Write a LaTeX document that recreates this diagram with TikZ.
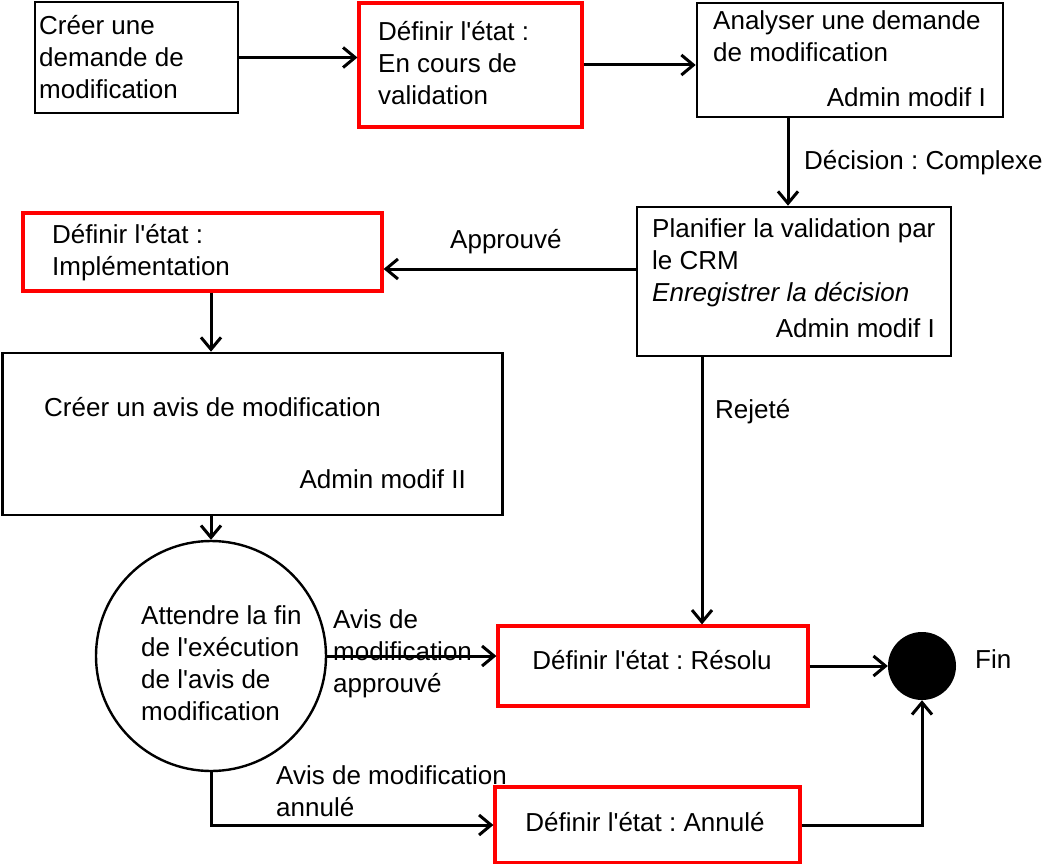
\documentclass[tikz,border=0pt]{standalone}
\usepackage{fontspec}
\setmainfont{Liberation Sans}[Ligatures=TeXOff]
\usetikzlibrary{arrows.meta}
\frenchspacing
\begin{document}
\begin{tikzpicture}[x=1pt,y=-1pt,
  box/.style={draw, line width=2.6pt, rectangle, inner sep=0},
  redbox/.style={draw=red, line width=3.2pt, rectangle, inner sep=0},
  txt/.style={inner sep=0, anchor=north west, align=left, font=\fontsize{26}{32}\selectfont},
  lbl/.style={inner sep=0, anchor=base west, font=\fontsize{26}{32}\selectfont},
  arr/.style={line width=3pt, -{Straight Barb[length=12pt,width=20pt]}}]
\useasboundingbox (0,0) rectangle (1046,864);
% boxes
\node[box, minimum width=203pt, minimum height=111pt] (b1) at (136.5,57.5) {};
\node[redbox, minimum width=223pt, minimum height=124pt] (b2) at (470.5,65) {};
\node[box, minimum width=306pt, minimum height=114pt] (b3) at (850,60) {};
\node[box, minimum width=314pt, minimum height=149pt] (b4) at (794,281.5) {};
\node[redbox, minimum width=359pt, minimum height=78pt] (b5) at (202.5,252) {};
\node[box, minimum width=500pt, minimum height=162pt] (b6) at (252.5,434) {};
\node[draw, circle, line width=2.4pt, minimum size=230pt, inner sep=0] (circ) at (211,656) {};
\node[redbox, minimum width=310pt, minimum height=80pt] (b7) at (653,666) {};
\node[redbox, minimum width=305pt, minimum height=76pt] (b8) at (647.5,825) {};
\node[circle, fill=black, minimum size=68pt, inner sep=0] (fin) at (922,666) {};
% texts
\node[txt] (t1) at (39,12) {\strut Créer une\\demande de\\modification};
\node[txt] (t2) at (378,18) {\strut Définir l'état :\\En cours de\\validation};
\node[txt] (t3) at (713,7) {\strut Analyser une demande\\de modification};
\node[lbl, anchor=base east] (t3a) at (986,106.5) {Admin modif I};
\node[txt] (t4) at (652,215) {\strut Planifier la validation par\\le CRM\\\textit{Enregistrer la décision}};
\node[lbl, anchor=base east] (t4a) at (935,337.5) {Admin modif I};
\node[txt] (t5) at (52,221) {\strut Définir l'état :\\Implémentation};
\node[lbl] (t6) at (44,416.5) {Créer un avis de modification};
\node[lbl, anchor=base east] (t6a) at (466,488.5) {Admin modif II};
\node[txt] (tc) at (141,602) {\strut Attendre la fin\\de l'exécution\\de l'avis de\\modification};
\node[lbl, anchor=base] (t7) at (652,669.5) {Définir l'état : Résolu};
\node[lbl, anchor=base] (t8) at (645,831.5) {Définir l'état : Annulé};
\node[lbl] (tfin) at (975,668.5) {Fin};
% edge labels
\node[lbl] (ldec) at (804,169.5) {Décision : Complexe};
\node[lbl] (lapp) at (450,248.5) {Approuvé};
\node[lbl] (lrej) at (715,418.5) {Rejeté};
\node[txt] (lavis) at (333,606) {\strut Avis de\\modification\\approuvé};
\node[txt] (lann) at (276,762) {\strut Avis de modification\\annulé};
% connectors
\coordinate (xd) at (788,0);
\coordinate (ya) at (0,269);
\coordinate (xb) at (211,0);
\coordinate (xr) at (702,0);
\draw[arr] (b1.east) -- (b1.east -| b2.west);
\draw[arr] (b2.east) -- (b2.east -| b3.west);
\draw[arr] (b3.south -| xd) -- (b4.north -| xd);
\draw[arr] (b4.west |- ya) -- (b5.east |- ya);
\draw[arr] (b5.south -| xb) -- (b6.north -| xb);
\draw[arr] (b6.south -| circ.north) -- (circ.north);
\draw[arr] (b4.south -| xr) -- (b7.north -| xr);
\draw[arr] (circ.east) -- (circ.east -| b7.west);
\draw[arr] (b7.east) -- (fin.west);
\draw[arr] (circ.south) |- (b8.west);
\draw[arr] (b8.east) -| (fin.south);
\end{tikzpicture}
\end{document}
